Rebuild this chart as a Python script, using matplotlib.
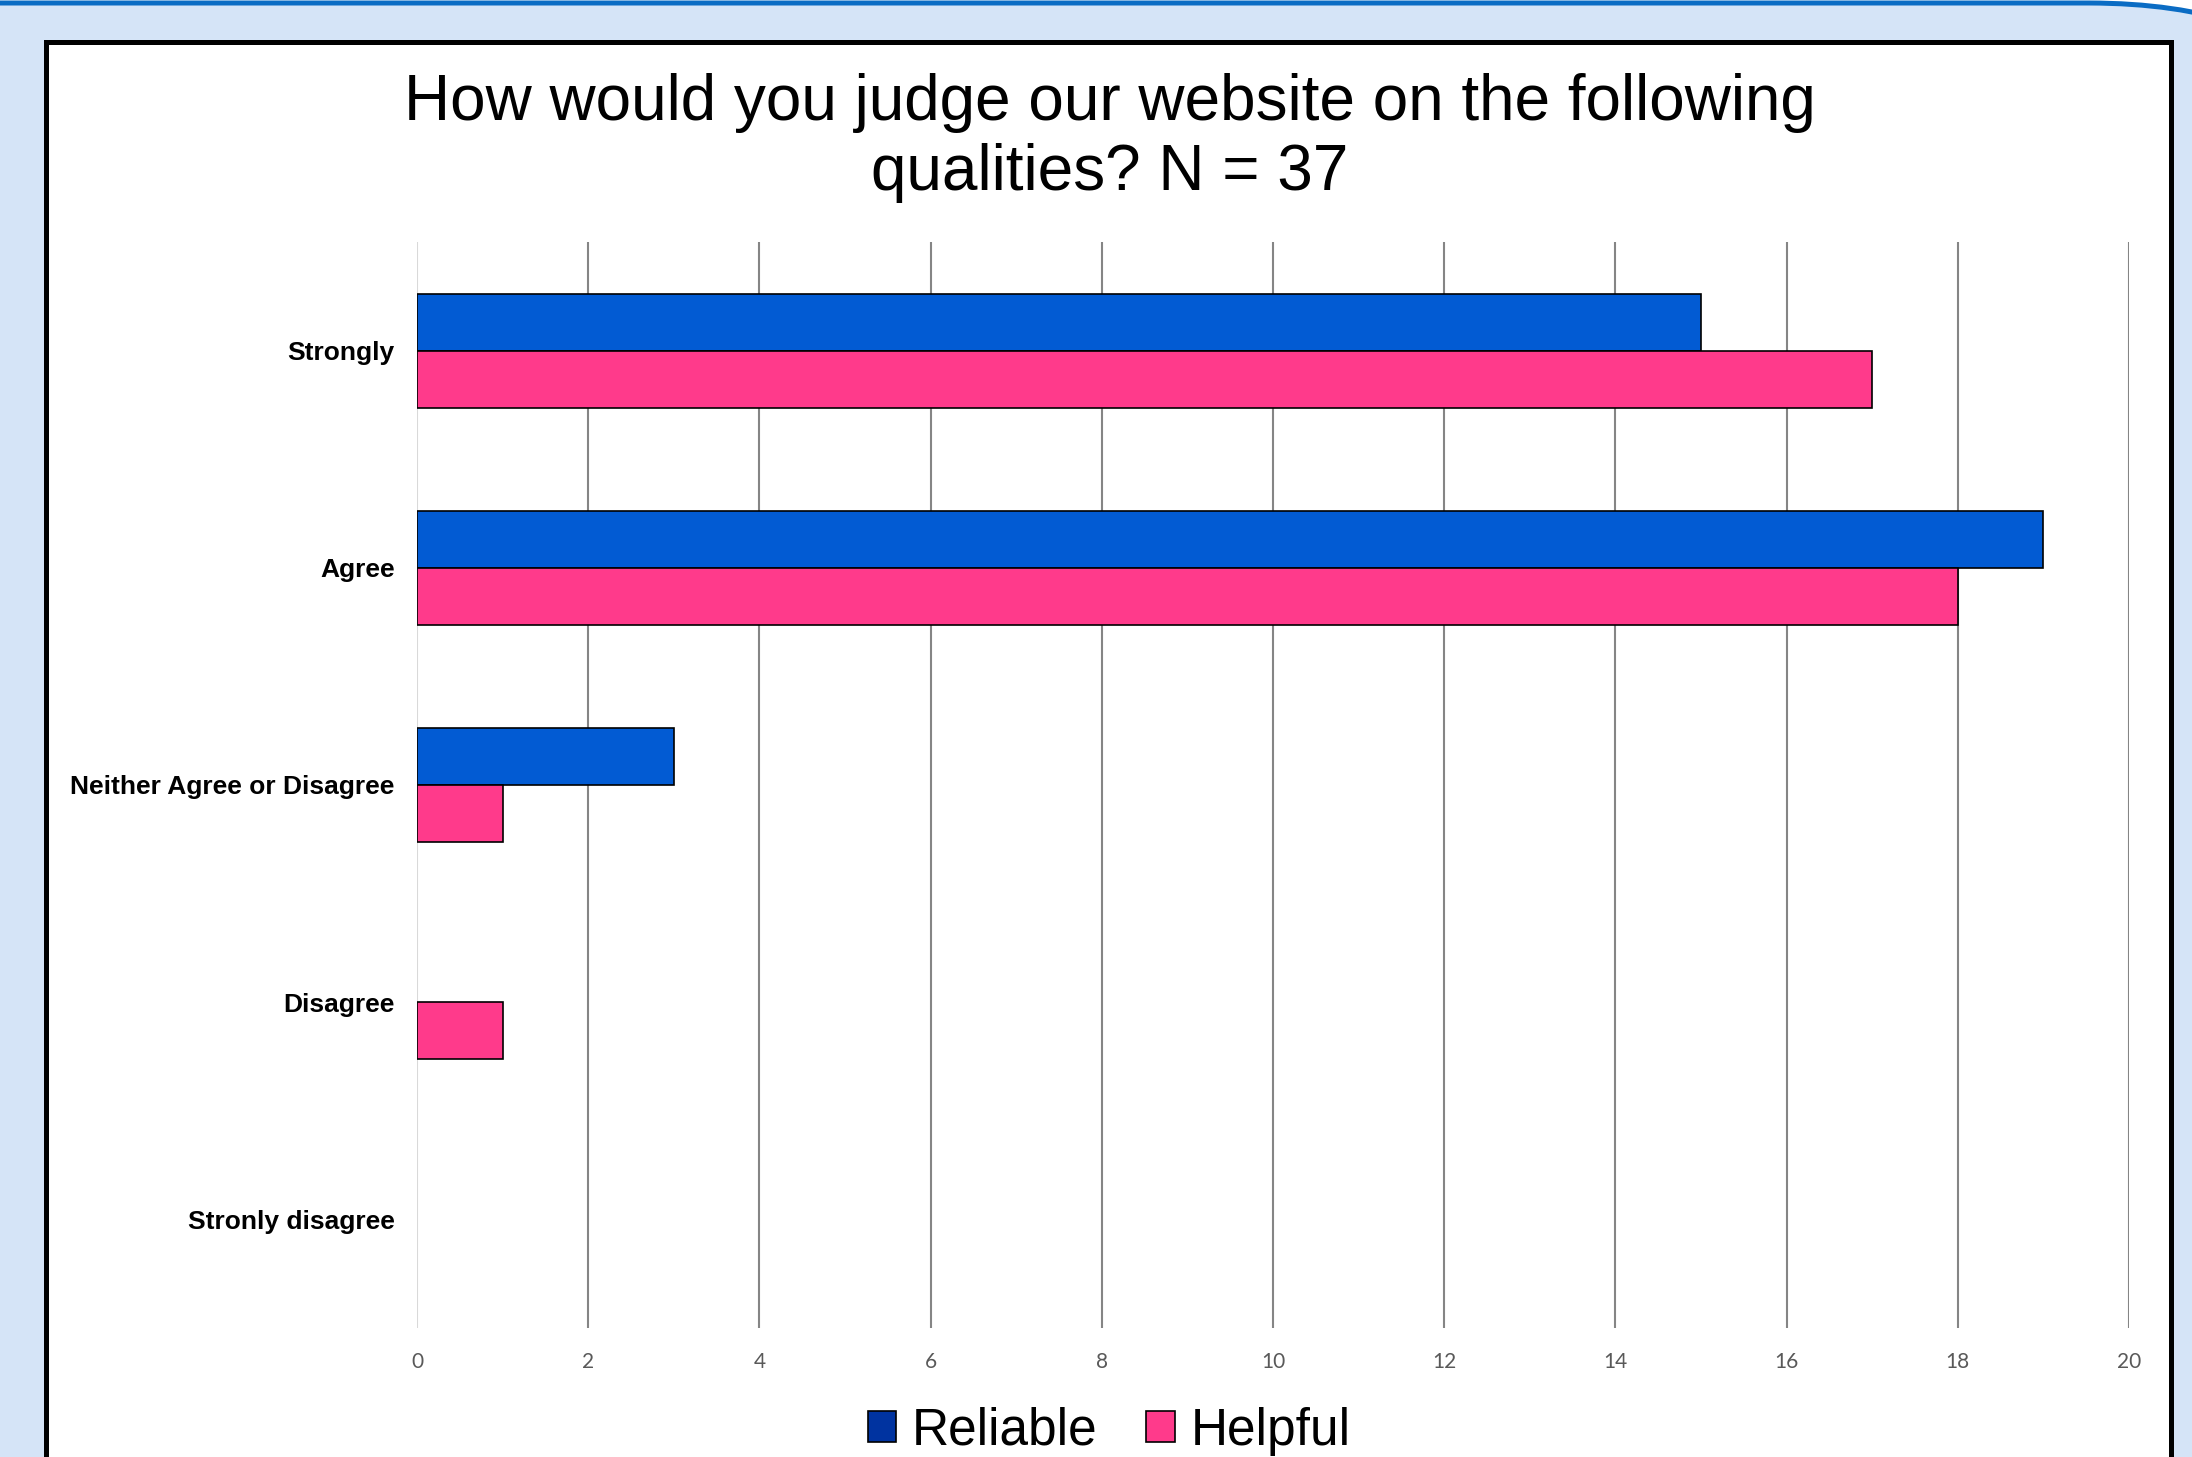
import numpy as np
import matplotlib.pyplot as plt
from matplotlib.patches import FancyBboxPatch, Rectangle, Patch
from matplotlib.transforms import IdentityTransform

categories = ['Strongly', 'Agree', 'Neither Agree or Disagree', 'Disagree', 'Stronly disagree']
reliable = [15, 19, 3, 0, 0]
helpful = [17, 18, 1, 1, 0]
series_names = ['Reliable', 'Helpful']
x_ticks = [0, 2, 4, 6, 8, 10, 12, 14, 16, 18, 20]

W, H = 2192, 1457
fig = plt.figure(figsize=(W / 100, H / 100), dpi=100)
fig.patch.set_facecolor('white')

# slide background with the rounded blue frame
bg = FancyBboxPatch((-400, -400), W + 650 - 3, H + 400 - 3,
                    boxstyle='round,pad=0,rounding_size=350',
                    facecolor='#d5e4f7', edgecolor='#0a6cc4', linewidth=3.6,
                    transform=IdentityTransform(), zorder=0)
fig.patches.append(bg)

# white chart panel with black border
panel = Rectangle((46, -60), 2171 - 46, H - 42 + 60,
                  facecolor='white', edgecolor='black', linewidth=3.6,
                  transform=IdentityTransform(), zorder=1)
fig.patches.append(panel)

ax = fig.add_axes([417 / W, 1 - 1328 / H, (2129 - 417) / W, (1328 - 242) / H])
ax.set_facecolor('none')
ax.set_zorder(2)

y = np.arange(len(categories))
h = 0.262
edges_r = ['black' if v > 0 else 'none' for v in reliable]
edges_h = ['black' if v > 0 else 'none' for v in helpful]
ax.barh(y - h / 2, reliable, height=h, color='#025bd3', edgecolor=edges_r,
        linewidth=1.2, zorder=3)
ax.barh(y + h / 2, helpful, height=h, color='#ff3a8b', edgecolor=edges_h,
        linewidth=1.2, zorder=3)

for t in x_ticks:
    ax.axvline(t, color='#d9d9d9' if t == 0 else '#858585', linewidth=1.5, zorder=1)

ax.set_xlim(0, 20)
ax.set_ylim(len(categories) - 0.5, -0.5)
ax.set_xticks(x_ticks)
ax.set_yticks(y)
ax.set_yticklabels(categories, fontfamily='Liberation Sans', fontweight='bold',
                   fontsize=19)
ax.tick_params(axis='y', length=0, pad=16)
ax.tick_params(axis='x', length=0, pad=17, labelsize=15, labelcolor='#595959')
for lab in ax.get_xticklabels():
    lab.set_fontfamily('Lato')
for s in ax.spines.values():
    s.set_visible(False)

fig.text(1110 / W, 1 - 138 / H,
         'How would you judge our website on the following\nqualities? N = 37',
         ha='center', va='center', ma='center', fontsize=46,
         fontfamily='Liberation Sans', linespacing=1.22, zorder=5)

handles = [Patch(facecolor='#0033a0', edgecolor='black', linewidth=1.2),
           Patch(facecolor='#ff3a8b', edgecolor='black', linewidth=1.2)]
leg = fig.legend(handles, series_names, loc='center', ncol=2,
                 bbox_to_anchor=(1109 / W, 1 - 1431 / H), frameon=False,
                 prop={'family': 'Liberation Sans', 'size': 37},
                 handlelength=0.56, handleheight=0.56, handletextpad=0.3,
                 columnspacing=0.95, borderpad=0)
leg.set_zorder(5)

fig.savefig('out.png', dpi=100)
